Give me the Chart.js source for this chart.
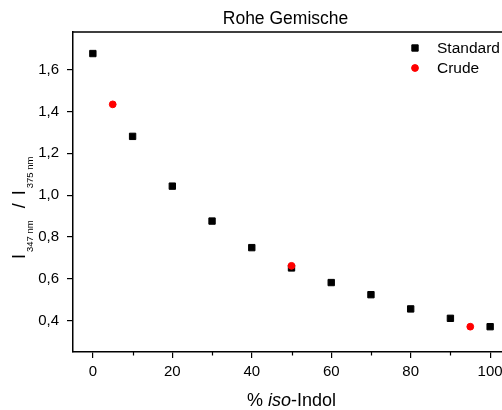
<!DOCTYPE html>
<html><head><meta charset="utf-8">
<script src="https://cdn.jsdelivr.net/npm/chart.js@4/dist/chart.umd.min.js"></script>
<style>
html,body{margin:0;padding:0;background:#fff;overflow:hidden;}
#wrap{width:520px;height:410px;}
</style></head><body>
<div id="wrap"><canvas id="c" width="520" height="410"></canvas></div>
<script>
const standardX = [0, 10, 20, 30, 40, 50, 60, 70, 80, 90, 100];
const standardY = [1.677, 1.281, 1.043, 0.876, 0.749, 0.652, 0.582, 0.524, 0.456, 0.411, 0.371];
const crudeX = [5, 50, 95];
const crudeY = [1.434, 0.662, 0.371];
const xMajorTicks = [0, 20, 40, 60, 80, 100];
const xMinorTicks = [10, 30, 50, 70, 90];
const yTicks = [0.4, 0.6, 0.8, 1.0, 1.2, 1.4, 1.6];
const titleText = 'Rohe Gemische';
const seriesNames = ['Standard', 'Crude'];

const FAM = "'Liberation Sans', Arial, Helvetica, sans-serif";

const decor = {
  id: 'decor',
  afterDraw(chart) {
    const ctx = chart.ctx;
    const a = chart.chartArea;
    const xs = chart.scales.x;
    ctx.save();
    // frame top/right
    ctx.strokeStyle = '#000';
    ctx.lineWidth = 1.5;
    ctx.beginPath();
    ctx.moveTo(a.left, a.top); ctx.lineTo(a.right, a.top); ctx.lineTo(a.right, a.bottom);
    ctx.stroke();
    // minor x ticks
    ctx.lineWidth = 1.2;
    ctx.beginPath();
    xMinorTicks.forEach(v => {
      const p = Math.round(xs.getPixelForValue(v)) + 0.5;
      ctx.moveTo(p, a.bottom); ctx.lineTo(p, a.bottom + 3.5);
    });
    ctx.stroke();
    ctx.fillStyle = '#000';
    // title
    ctx.font = '17.5px ' + FAM;
    ctx.textAlign = 'center';
    ctx.textBaseline = 'alphabetic';
    ctx.fillText(titleText, (a.left + a.right) / 2 - 6, 24);
    // x axis title
    const cx = (a.left + a.right) / 2;
    const parts = [['% ', 'normal'], ['iso', 'italic'], ['-Indol', 'normal']];
    let total = 0;
    parts.forEach(p => { ctx.font = p[1] + ' 18px ' + FAM; p.w = ctx.measureText(p[0]).width; total += p.w; });
    let xx = cx - total / 2;
    ctx.textAlign = 'left';
    parts.forEach(p => { ctx.font = p[1] + ' 18px ' + FAM; ctx.fillText(p[0], xx, 406); xx += p.w; });
    // y axis title
    ctx.save();
    ctx.translate(25, 259);
    ctx.rotate(-Math.PI / 2);
    const yparts = [
      ['I', 18, 0, 0], ['347 nm', 9.5, 8, 2], ['/', 18, 0, 12], ['I', 18, 0, 8], ['375 nm', 9.5, 8, 2]
    ];
    let t = 0;
    yparts.forEach(p => {
      t += p[3];
      ctx.font = p[1] + 'px ' + FAM;
      ctx.fillText(p[0], t, p[2]);
      t += ctx.measureText(p[0]).width;
    });
    ctx.restore();
    // legend
    const ds = chart.data.datasets;
    const std = ds.find(d => d.label === seriesNames[0]);
    const cru = ds.find(d => d.label === seriesNames[1]);
    [[std, 48], [cru, 68]].forEach(([d, y]) => {
      ctx.fillStyle = d.backgroundColor;
      ctx.strokeStyle = d.borderColor;
      ctx.lineWidth = d.borderWidth;
      Chart.helpers.drawPoint(ctx, { pointStyle: d.pointStyle, radius: d.pointRadius, borderWidth: d.borderWidth, rotation: 0 }, 415, y);
      ctx.fillStyle = '#000';
      ctx.font = '15.5px ' + FAM;
      ctx.textAlign = 'left';
      ctx.textBaseline = 'middle';
      ctx.fillText(d.label, 437, y + 0.5);
    });
    ctx.restore();
  }
};

new Chart(document.getElementById('c'), {
  type: 'scatter',
  data: {
    datasets: [
      { label: seriesNames[1], data: crudeX.map((x, i) => ({ x, y: crudeY[i] })), pointStyle: 'circle', pointRadius: 3.4, backgroundColor: '#ff0000', borderColor: '#ff0000', borderWidth: 1, order: 0 },
      { label: seriesNames[0], data: standardX.map((x, i) => ({ x, y: standardY[i] })), pointStyle: 'rect', pointRadius: 4.5, backgroundColor: '#000', borderColor: '#000', borderWidth: 1, order: 1 }
    ]
  },
  options: {
    responsive: false, animation: false, devicePixelRatio: 1,
    layout: { padding: { top: 32, right: 10, left: 0, bottom: 0 } },
    plugins: { legend: { display: false }, tooltip: { enabled: false }, title: { display: false } },
    scales: {
      x: {
        type: 'linear', min: -5, max: 105, position: 'bottom',
        afterBuildTicks: s => { s.ticks = xMajorTicks.map(v => ({ value: v })); },
        afterFit: s => { s.height = 58; },
        grid: { drawOnChartArea: false, drawTicks: true, tickLength: 6, color: '#000', lineWidth: 1.2 },
        border: { display: true, color: '#000', width: 1.5 },
        ticks: { font: { family: FAM, size: 15 }, color: '#000', padding: 5, maxRotation: 0, autoSkip: false }
      },
      y: {
        type: 'linear', min: 0.25, max: 1.78, position: 'left',
        afterBuildTicks: s => { s.ticks = yTicks.map(v => ({ value: v })); },
        afterFit: s => { s.width = 73; },
        grid: { drawOnChartArea: false, drawTicks: true, tickLength: 6, color: '#000', lineWidth: 1.2 },
        border: { display: true, color: '#000', width: 1.5 },
        ticks: { font: { family: FAM, size: 15 }, color: '#000', padding: 8, autoSkip: false,
          callback: v => Number(v).toFixed(1).replace('.', ',') }
      }
    }
  },
  plugins: [decor]
});
</script>
</body></html>
